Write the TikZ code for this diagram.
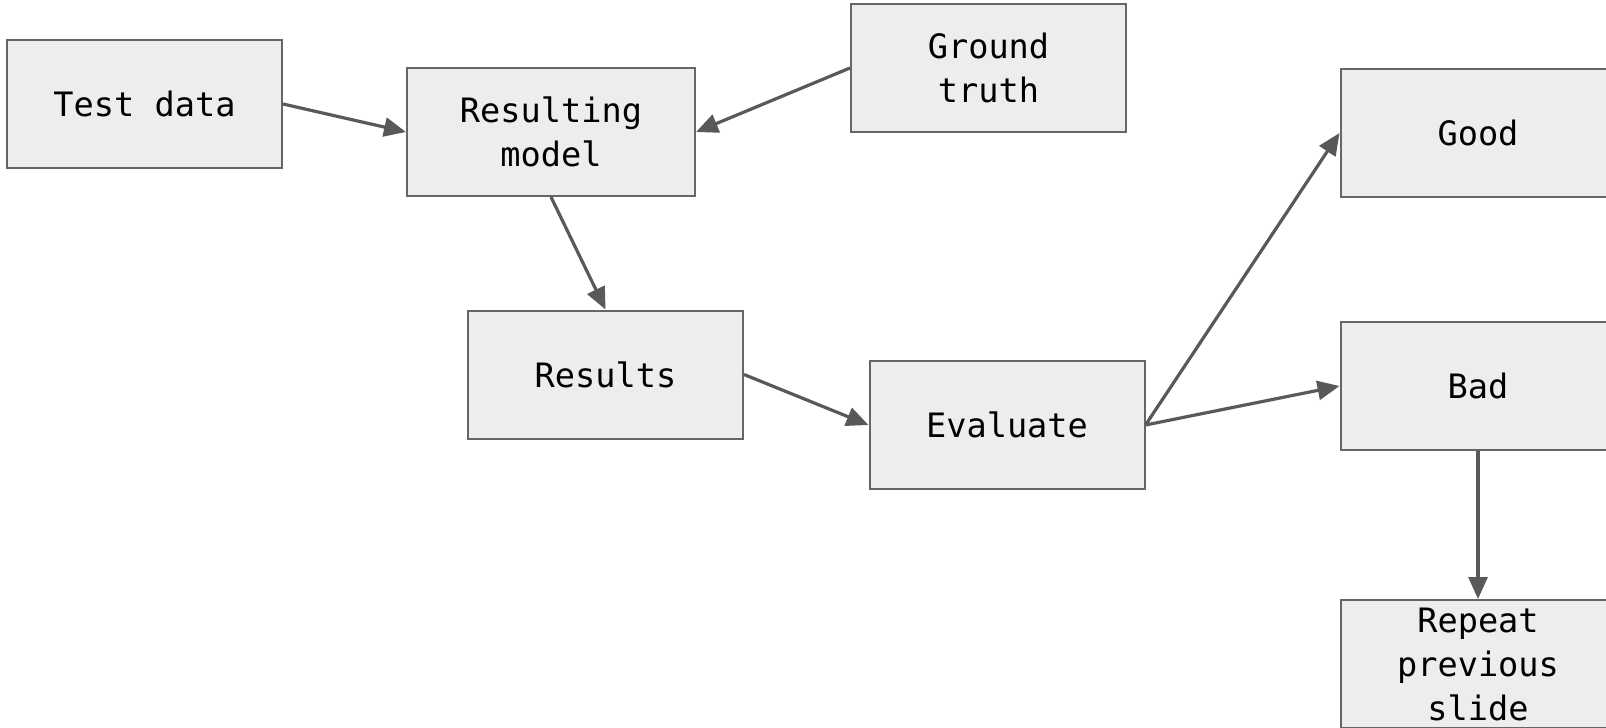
\documentclass[tikz,border=0pt]{standalone}
\usepackage{fontspec}
\setmonofont{DejaVu Sans Mono}
\usetikzlibrary{arrows.meta, positioning}

\begin{document}
\begin{tikzpicture}[x=0.5pt, y=-0.5pt, box/.style={draw=black!60,
      fill=black!7, line width=1pt, inner sep=0pt, minimum width=137.5pt,
      minimum height=64pt, align=center,
      font=\ttfamily\fontsize{16.8pt}{22pt}\selectfont}, flow/.style={line
      width=1.6pt, black!65, -{Triangle[length=11pt, width=9.5pt]}}, ]

    \useasboundingbox (0,0) rectangle (1606,728);

    % Boxes
    \node[box] (test) at (144.5,104) {Test data}; \node[box, minimum
    width=144pt] (model) at (551,132) {Resulting\\model}; \node[box] (truth)
    at (988.5,68) {Ground\\truth}; \node[box] (results) at (605.5,374.5)
    {Results}; \node[box] (eval) at (1007,425) {Evaluate};

    % Outcomes
    \node[box] (good) at (1478,133) {Good}; \node[box] (bad) at (1478,386)
    {Bad}; \node[box] (repeat) at (1478,664) {Repeat\\previous\\slide};

    % Arrows
    \draw[flow] (test.east) -- (model.west); \draw[flow] (truth.west) --
    (model.east); \draw[flow] (model.south) -- (results.north); \draw[flow]
    (results.east) -- (eval.west); \draw[flow] (eval.east) -- (good.west);
    \draw[flow] (eval.east) -- (bad.west); \draw[flow] (bad.south) --
    (repeat.north);

\end{tikzpicture}
\end{document}
